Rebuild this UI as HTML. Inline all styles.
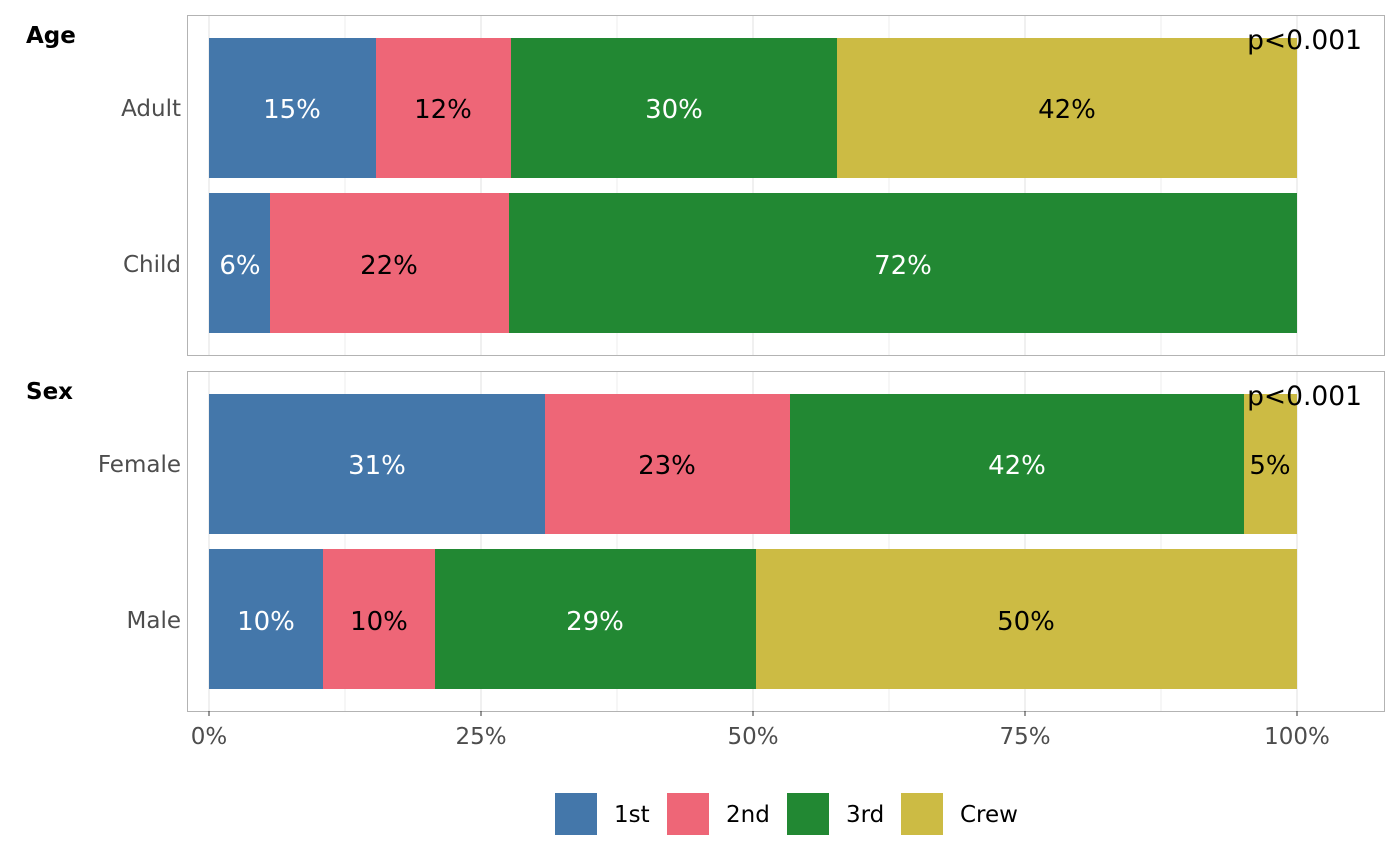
<!DOCTYPE html>
<html><head><meta charset="utf-8"><style>
body{margin:0;background:#fff}
svg{display:block;font-family:"DejaVu Sans","Liberation Sans",sans-serif}
</style></head><body>
<svg width="1400" height="866" viewBox="0 0 1400 866" xmlns="http://www.w3.org/2000/svg">
<g stroke="#e5e5e5" stroke-width="1.2">
<line x1="345" y1="15" x2="345" y2="355" stroke-width="0.7"/><line x1="617" y1="15" x2="617" y2="355" stroke-width="0.7"/><line x1="889" y1="15" x2="889" y2="355" stroke-width="0.7"/><line x1="1161" y1="15" x2="1161" y2="355" stroke-width="0.7"/>
<line x1="209" y1="15" x2="209" y2="355"/><line x1="481" y1="15" x2="481" y2="355"/><line x1="753" y1="15" x2="753" y2="355"/><line x1="1025" y1="15" x2="1025" y2="355"/><line x1="1297" y1="15" x2="1297" y2="355"/>
<line x1="345" y1="371" x2="345" y2="711" stroke-width="0.7"/><line x1="617" y1="371" x2="617" y2="711" stroke-width="0.7"/><line x1="889" y1="371" x2="889" y2="711" stroke-width="0.7"/><line x1="1161" y1="371" x2="1161" y2="711" stroke-width="0.7"/>
<line x1="209" y1="371" x2="209" y2="711"/><line x1="481" y1="371" x2="481" y2="711"/><line x1="753" y1="371" x2="753" y2="711"/><line x1="1025" y1="371" x2="1025" y2="711"/><line x1="1297" y1="371" x2="1297" y2="711"/>
</g>
<rect x="209" y="38" width="167" height="140" fill="#4477AA"/>
<rect x="376" y="38" width="135" height="140" fill="#EE6677"/>
<rect x="511" y="38" width="326" height="140" fill="#228833"/>
<rect x="837" y="38" width="460" height="140" fill="#CCBB44"/>
<rect x="209" y="193" width="61" height="140" fill="#4477AA"/>
<rect x="270" y="193" width="239" height="140" fill="#EE6677"/>
<rect x="509" y="193" width="788" height="140" fill="#228833"/>
<rect x="209" y="394" width="336" height="140" fill="#4477AA"/>
<rect x="545" y="394" width="245" height="140" fill="#EE6677"/>
<rect x="790" y="394" width="454" height="140" fill="#228833"/>
<rect x="1244" y="394" width="53" height="140" fill="#CCBB44"/>
<rect x="209" y="549" width="114" height="140" fill="#4477AA"/>
<rect x="323" y="549" width="112" height="140" fill="#EE6677"/>
<rect x="435" y="549" width="321" height="140" fill="#228833"/>
<rect x="756" y="549" width="541" height="140" fill="#CCBB44"/>
<rect x="187.5" y="15.5" width="1197" height="340" fill="none" stroke="#b3b3b3"/>
<rect x="187.5" y="371.5" width="1197" height="340" fill="none" stroke="#b3b3b3"/>
<g font-size="26" text-anchor="middle">
<text x="292" y="118" fill="#fff">15%</text><text x="443" y="118">12%</text><text x="674" y="118" fill="#fff">30%</text><text x="1067" y="118">42%</text>
<text x="240" y="274" fill="#fff">6%</text><text x="389" y="274">22%</text><text x="903" y="274" fill="#fff">72%</text>
<text x="377" y="474" fill="#fff">31%</text><text x="667" y="474">23%</text><text x="1017" y="474" fill="#fff">42%</text><text x="1270" y="474">5%</text>
<text x="266" y="630" fill="#fff">10%</text><text x="379" y="630">10%</text><text x="595" y="630" fill="#fff">29%</text><text x="1026" y="630">50%</text>
</g>
<g font-size="26.5" text-anchor="end"><text x="1362" y="49">p&lt;0.001</text><text x="1362" y="405">p&lt;0.001</text></g>
<g font-size="23" font-weight="bold"><text x="26" y="43">Age</text><text x="26" y="399">Sex</text></g>
<g font-size="23" fill="#4d4d4d" text-anchor="end">
<text x="181" y="116">Adult</text><text x="181" y="272">Child</text><text x="181" y="472">Female</text><text x="181" y="628">Male</text>
</g>
<g stroke="#333" stroke-width="1">
<line x1="209" y1="711" x2="209" y2="716"/><line x1="481" y1="711" x2="481" y2="716"/><line x1="753" y1="711" x2="753" y2="716"/><line x1="1025" y1="711" x2="1025" y2="716"/><line x1="1297" y1="711" x2="1297" y2="716"/>
</g>
<g font-size="23" fill="#4d4d4d" text-anchor="middle">
<text x="209" y="744">0%</text><text x="481" y="744">25%</text><text x="753" y="744">50%</text><text x="1025" y="744">75%</text><text x="1297" y="744">100%</text>
</g>
<rect x="555" y="793" width="42" height="42" fill="#4477AA"/>
<rect x="667" y="793" width="42" height="42" fill="#EE6677"/>
<rect x="787" y="793" width="42" height="42" fill="#228833"/>
<rect x="901" y="793" width="42" height="42" fill="#CCBB44"/>
<g font-size="23"><text x="614" y="822">1st</text><text x="726" y="822">2nd</text><text x="846" y="822">3rd</text><text x="960" y="822">Crew</text></g>
</svg>
</body></html>
